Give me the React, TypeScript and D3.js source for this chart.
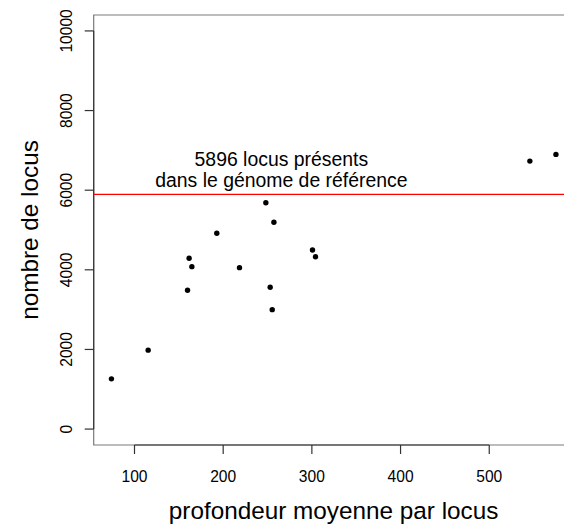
import React from "react";
import * as d3 from "d3";

const depth = [74, 115.4, 159.8, 164.7, 218.4, 253, 255.3, 161.6, 192.8, 248.1, 257.2, 300.7, 304.1, 545.8, 575.2];
const loci = [1262, 1982, 3487, 4080, 4054, 3562, 3000, 4290, 4917, 5685, 5193, 4498, 4330, 6731, 6899];
const xTicks = [100, 200, 300, 400, 500];
const yTicks = [0, 2000, 4000, 6000, 8000, 10000];
const refLoci = 5896;
const annotationLines = ["5896 locus présents", "dans le génome de référence"];
const annotationX = 265.6;
const xLabel = "profondeur moyenne par locus";
const yLabel = "nombre de locus";

const FONT = "'Liberation Sans', Arial, Helvetica, sans-serif";

export default function App() {
  const W = 564, H = 530;
  const left = 93.7, right = 573.5, top = 15, bottom = 445;
  const x = d3.scaleLinear().domain([54, 595]).range([left, right]);
  const y = d3.scaleLinear().domain([-400, 10400]).range([bottom, top]);
  const axisColor = "#333";
  const boxColor = "#7a7a7a";
  return (
    <svg width={W} height={H} style={{ position: "absolute", left: 0, top: 0, background: "#fff", overflow: "hidden" }} fontFamily={FONT}>
      <path d={`M${right},${top}H${left}V${bottom}H${right}`} fill="none" stroke={boxColor} strokeWidth={1.2} />
      {/* x axis */}
      <line x1={x(xTicks[0])} x2={x(xTicks[xTicks.length - 1])} y1={bottom} y2={bottom} stroke={axisColor} strokeWidth={1.2} />
      {xTicks.map((t) => (
        <g key={t}>
          <line x1={x(t)} x2={x(t)} y1={bottom} y2={bottom + 9} stroke={axisColor} strokeWidth={1.2} />
          <text x={x(t)} y={481.5} textAnchor="middle" fontSize={15.6} fill="#000">{t}</text>
        </g>
      ))}
      {/* y axis */}
      <line x1={left} x2={left} y1={y(yTicks[0])} y2={y(yTicks[yTicks.length - 1])} stroke={axisColor} strokeWidth={1.2} />
      {yTicks.map((t) => (
        <g key={t}>
          <line x1={left} x2={left - 9} y1={y(t)} y2={y(t)} stroke={axisColor} strokeWidth={1.2} />
          <text transform={`translate(71.5,${y(t)}) rotate(-90)`} textAnchor="middle" fontSize={15.6} fill="#000">{t}</text>
        </g>
      ))}
      {/* reference line */}
      <line x1={left} x2={right} y1={y(refLoci)} y2={y(refLoci)} stroke="#ff0000" strokeWidth={1.1} />
      {annotationLines.map((s, i) => (
        <text key={i} x={x(annotationX)} y={166 + i * 21} textAnchor="middle" fontSize={19.4} fill="#000">{s}</text>
      ))}
      {depth.map((d, i) => (
        <circle key={i} cx={x(d)} cy={y(loci[i])} r={2.7} fill="#000" />
      ))}
      <text x={(left + right) / 2} y={518.5} textAnchor="middle" fontSize={24.3} fill="#000">{xLabel}</text>
      <text transform={`translate(37.5,${(top + bottom) / 2}) rotate(-90)`} textAnchor="middle" fontSize={24.3} fill="#000">{yLabel}</text>
    </svg>
  );
}
